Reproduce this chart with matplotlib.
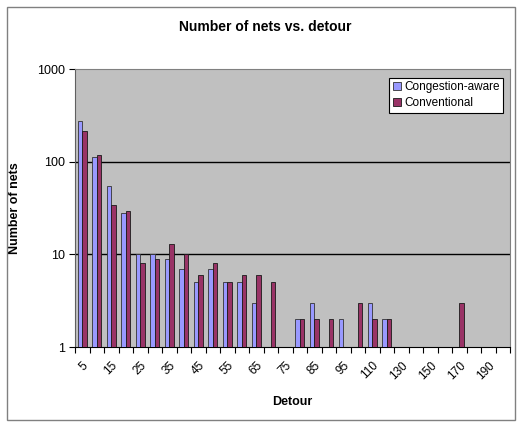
import numpy as np
import matplotlib.pyplot as plt
from matplotlib.patches import Rectangle
from matplotlib.ticker import FixedLocator, NullLocator, NullFormatter

detour = [5, 10, 15, 20, 25, 30, 35, 40, 45, 50, 55, 60, 65, 70, 75, 80, 85, 90,
          95, 100, 110, 120, 130, 140, 150, 160, 170, 180, 190, 200]
congestion_aware = [275, 112, 54, 28, 10, 10, 9, 7, 5, 7, 5, 5, 3, 0, 0, 2, 3, 0,
                    2, 0, 3, 2, 0, 0, 0, 0, 0, 0, 0, 0]
conventional = [215, 118, 34, 29, 8, 9, 13, 10, 6, 8, 5, 6, 6, 5, 0, 2, 2, 2,
                0, 3, 2, 2, 0, 0, 0, 0, 3, 0, 0, 0]

plt.rcParams['font.family'] = ['Liberation Sans', 'DejaVu Sans']

fig = plt.figure(figsize=(5.21, 4.22), dpi=100)
fig.patches.append(Rectangle((7 / 521, 2 / 422), 508 / 521, 413 / 422,
                             transform=fig.transFigure, fill=False,
                             edgecolor='#808080', linewidth=1))
ax = fig.add_axes([75 / 521, 75 / 422, 435 / 521, 278 / 422])
ax.set_facecolor('#C0C0C0')

x = np.arange(len(detour))
w = 0.3
ca = np.array(congestion_aware, dtype=float)
cv = np.array(conventional, dtype=float)
ca[ca == 0] = np.nan
cv[cv == 0] = np.nan

ax.set_yscale('log')

ax.bar(x - w / 2, ca, w, color='#9999FF', edgecolor='#333333',
       linewidth=0.6, label='Congestion-aware', zorder=3)
ax.bar(x + w / 2, cv, w, color='#993366', edgecolor='#1a1a1a',
       linewidth=0.6, label='Conventional', zorder=3)
ax.set_ylim(1, 1000)
ax.set_xlim(-0.5, len(detour) - 0.5)

for v in (10, 100):
    ax.axhline(v, color='black', linewidth=1, zorder=2)

ax.yaxis.set_major_locator(FixedLocator([1, 10, 100, 1000]))
ax.yaxis.set_minor_locator(NullLocator())
ax.set_yticklabels(['1', '10', '100', '1000'])
ax.yaxis.set_minor_formatter(NullFormatter())
ax.tick_params(axis='y', direction='out', length=4, labelsize=9, pad=3)

# tick marks sit between categories, labels on every other category
ax.xaxis.set_major_locator(FixedLocator(np.arange(-0.5, len(detour), 1)))
ax.xaxis.set_major_formatter(NullFormatter())
ax.set_xticks(x[::2], [str(d) for d in detour[::2]], minor=True,
              rotation=45, ha='right', va='top', rotation_mode='anchor')
ax.tick_params(axis='x', which='major', direction='out', length=4)
ax.tick_params(axis='x', which='minor', length=0, labelsize=8.5, pad=9)

for s in ('top', 'right'):
    ax.spines[s].set_color('#808080')
ax.spines['left'].set_color('#606060')
ax.spines['bottom'].set_color('black')

ax.set_xlabel('Detour', fontsize=9, fontweight='bold', labelpad=10)
ax.set_ylabel('Number of nets', fontsize=9, fontweight='bold', labelpad=12)
fig.text(265 / 521, 1 - 27 / 422, 'Number of nets vs. detour', ha='center',
         va='center', fontsize=10, fontweight='bold')

leg = ax.legend(loc='upper right', bbox_to_anchor=(0.985, 0.968), fontsize=8.5,
                frameon=True, fancybox=False, handlelength=0.7,
                handleheight=0.7, handletextpad=0.3, borderpad=0.3,
                labelspacing=0.3, borderaxespad=0)
leg.get_frame().set_edgecolor('black')
leg.get_frame().set_facecolor('white')
leg.get_frame().set_linewidth(0.8)
leg.get_frame().set_alpha(1)

fig.savefig('out.png', dpi=100)
